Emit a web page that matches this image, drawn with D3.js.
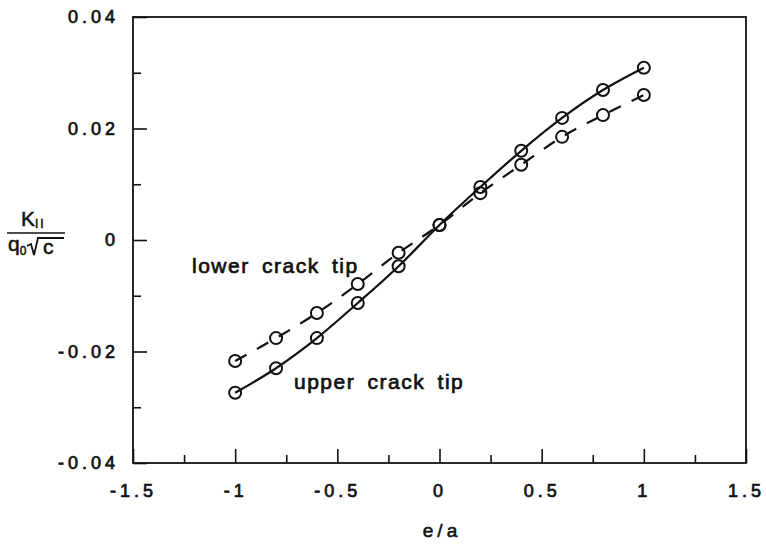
<!DOCTYPE html>
<html>
<head>
<meta charset="utf-8">
<script src="https://cdn.jsdelivr.net/npm/d3@7"></script>
<style>
  body { margin: 0; background: #fff; }
  text { font-family: "Liberation Sans", Arial, Helvetica, sans-serif; fill: #111; }
</style>
</head>
<body>
<svg id="chart" width="766" height="546"></svg>
<script>
// Normalised eccentricity e/a and mode-II stress intensity factor at both crack tips
const ePos      = [-1, -0.8, -0.6, -0.4, -0.2, 0, 0.2, 0.4, 0.6, 0.8, 1];
const upperTip  = [-0.0274, -0.0230, -0.0176, -0.0113, -0.0047, 0.0027, 0.0095, 0.0160, 0.0219, 0.0269, 0.0309];
const lowerTip  = [-0.0217, -0.0176, -0.0131, -0.0079, -0.0023, 0.0027, 0.0084, 0.0135, 0.0185, 0.0224, 0.0260];

const xMajor  = [-1.5, -1, -0.5, 0, 0.5, 1, 1.5];
const xLabels = ["-1.5", "-1", "-0.5", "0", "0.5", "1", "1.5"];
const xMinor  = [-1.25, -0.75, -0.25, 0.25, 0.75, 1.25];
const yMajor  = [-0.04, -0.02, 0, 0.02, 0.04];
const yLabels = ["-0.04", "-0.02", "0", "0.02", "0.04"];
const yMinor  = [-0.03, -0.01, 0.01, 0.03];

const svg = d3.select("#chart");
const plotL = 133, plotR = 746, plotT = 17, plotB = 463;

const x = d3.scaleLinear().domain([-1.5, 1.5]).range([plotL, plotR]);
const y = d3.scaleLinear().domain([-0.04, 0.04]).range([plotB, plotT]);

const tickFont = g => g.selectAll("text")
  .attr("font-size", 18)
  .attr("letter-spacing", "4px")
  .attr("fill", "#111")
  .attr("stroke", "#111")
  .attr("stroke-width", 0.7);

// bottom axis: major ticks with labels, then minor ticks
const xAxis = svg.append("g").attr("transform", `translate(0,${plotB})`)
  .call(d3.axisBottom(x).tickValues(xMajor).tickSize(-14).tickPadding(21)
    .tickFormat((d, i) => xLabels[i]));
xAxis.call(tickFont);
svg.append("g").attr("transform", `translate(0,${plotB})`)
  .call(d3.axisBottom(x).tickValues(xMinor).tickSize(-8).tickFormat(""));

// left axis
const yAxis = svg.append("g").attr("transform", `translate(${plotL},0)`)
  .call(d3.axisLeft(y).tickValues(yMajor).tickSize(-14).tickPadding(14)
    .tickFormat((d, i) => yLabels[i]));
yAxis.call(tickFont);
svg.append("g").attr("transform", `translate(${plotL},0)`)
  .call(d3.axisLeft(y).tickValues(yMinor).tickSize(-8).tickFormat(""));

svg.selectAll(".domain").remove();
svg.selectAll(".tick line").attr("stroke", "#111").attr("stroke-width", 1.6);

// plot frame
svg.append("rect")
  .attr("x", plotL).attr("y", plotT)
  .attr("width", plotR - plotL).attr("height", plotB - plotT)
  .attr("fill", "none").attr("stroke", "#111").attr("stroke-width", 1.8);

// curves
const pts = vals => ePos.map((e, i) => [e, vals[i]]);
const line = d3.line().x(d => x(d[0])).y(d => y(d[1])).curve(d3.curveMonotoneX);

svg.append("path").datum(pts(upperTip))
  .attr("d", line).attr("fill", "none")
  .attr("stroke", "#111").attr("stroke-width", 2.2);

svg.append("path").datum(pts(lowerTip))
  .attr("d", line).attr("fill", "none")
  .attr("stroke", "#111").attr("stroke-width", 2.2)
  .attr("stroke-dasharray", "13,12");

// open circle markers
[upperTip, lowerTip].forEach(vals => {
  svg.append("g").selectAll("circle").data(pts(vals)).join("circle")
    .attr("cx", d => x(d[0])).attr("cy", d => y(d[1])).attr("r", 6)
    .attr("fill", "none").attr("stroke", "#111").attr("stroke-width", 2);
});

// curve annotations
const note = (tx, ty, s) => svg.append("text")
  .attr("x", tx).attr("y", ty)
  .attr("font-size", 21).attr("letter-spacing", "1.5px").attr("word-spacing", "5px")
  .attr("stroke", "#111").attr("stroke-width", 0.7)
  .text(s);
note(192, 273, "lower crack tip");
note(294, 389, "upper crack tip");

// x axis title
svg.append("text")
  .attr("x", 442).attr("y", 537).attr("text-anchor", "middle")
  .attr("font-size", 19).attr("letter-spacing", "4px")
  .attr("stroke", "#111").attr("stroke-width", 0.6)
  .text("e/a");

// y axis title: K_II over q0 sqrt(c)
const yt = svg.append("g");
const num = yt.append("text").attr("x", 21).attr("y", 226)
  .attr("font-size", 21).attr("stroke", "#111").attr("stroke-width", 0.5);
num.append("tspan").text("K");
num.append("tspan").attr("font-size", 12).attr("dy", 2).attr("letter-spacing", "2px").text("II");
yt.append("line").attr("x1", 7).attr("x2", 65).attr("y1", 233).attr("y2", 233)
  .attr("stroke", "#111").attr("stroke-width", 1.6);
const den = yt.append("text").attr("x", 8).attr("y", 251)
  .attr("font-size", 21).attr("stroke", "#111").attr("stroke-width", 0.5);
den.append("tspan").text("q");
den.append("tspan").attr("font-size", 12).attr("dy", 4).text("0");
// radical sign with vinculum
yt.append("path")
  .attr("d", "M27,246 L31,244 L34,255 L38,238 L64,238")
  .attr("fill", "none").attr("stroke", "#111").attr("stroke-width", 1.8)
  .attr("stroke-linejoin", "miter");
yt.append("text").attr("x", 43).attr("y", 254)
  .attr("font-size", 21).attr("stroke", "#111").attr("stroke-width", 0.5)
  .text("c");
</script>
</body>
</html>
